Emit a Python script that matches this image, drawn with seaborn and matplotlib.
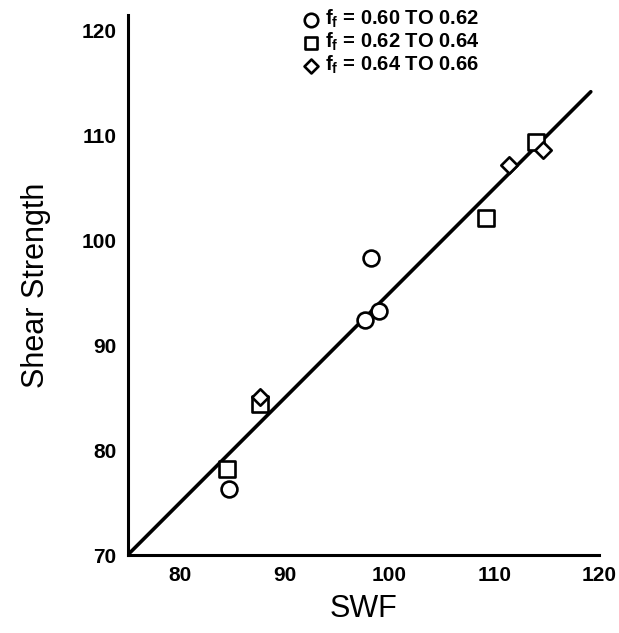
import matplotlib
matplotlib.use("Agg")
import matplotlib.pyplot as plt
import seaborn as sns
import pandas as pd

# ---- data ----
groups = ["0.60 TO 0.62", "0.62 TO 0.64", "0.64 TO 0.66"]
circle_x = [84.7, 97.7, 99.0, 98.2]
circle_y = [76.3, 92.4, 93.3, 98.3]
square_x = [84.5, 87.6, 109.2, 114.0]
square_y = [78.2, 84.4, 102.2, 109.4]
diamond_x = [87.6, 111.4, 114.6]
diamond_y = [85.1, 107.2, 108.6]
fit_x = [75.0, 119.2]
fit_y = [70.0, 114.2]
x_ticks = [80, 90, 100, 110, 120]
y_ticks = [70, 80, 90, 100, 110, 120]

sns.set_theme(style="white")
plt.rcParams["font.family"] = ["Liberation Sans", "DejaVu Sans"]
plt.rcParams["text.color"] = "black"
plt.rcParams["axes.labelcolor"] = "black"
plt.rcParams["xtick.color"] = "black"
plt.rcParams["ytick.color"] = "black"
plt.rcParams["mathtext.fontset"] = "custom"
plt.rcParams["mathtext.bf"] = "Liberation Sans:bold"
plt.rcParams["mathtext.rm"] = "Liberation Sans:bold"
plt.rcParams["mathtext.default"] = "bf"

labels = [f"f$_f$ = {g}" for g in groups]
df = pd.DataFrame({
    "SWF": circle_x + square_x + diamond_x,
    "Shear": circle_y + square_y + diamond_y,
    "group": [labels[0]] * len(circle_x) + [labels[1]] * len(square_x) + [labels[2]] * len(diamond_x),
})

fig = plt.figure(figsize=(6.19, 6.33), dpi=100)
ax = fig.add_axes([0.206, 0.123, 0.762, 0.853])

sns.lineplot(x=fit_x, y=fit_y, ax=ax, color="black", linewidth=2.6, zorder=1)

markers = {labels[0]: "o", labels[1]: "s", labels[2]: "D"}
sizes = {labels[0]: 130, labels[1]: 120, labels[2]: 70}
for lab in labels:
    sub = df[df["group"] == lab]
    sns.scatterplot(data=sub, x="SWF", y="Shear", ax=ax, marker=markers[lab],
                    s=sizes[lab], facecolor="white", edgecolor="black",
                    linewidth=1.9, label=lab, zorder=3)

ax.set_xlim(75, 120)
ax.set_ylim(70, 121.5)
ax.set_xticks(x_ticks)
ax.set_yticks(y_ticks)
ax.tick_params(direction="in", length=16, width=2.0, color="black",
               labelsize=15, pad=8, labelcolor="black")
for t in ax.get_xticklabels() + ax.get_yticklabels():
    t.set_fontweight("bold")
ax.spines["top"].set_visible(False)
ax.spines["right"].set_visible(False)
for s in ["left", "bottom"]:
    ax.spines[s].set_linewidth(2.2)
    ax.spines[s].set_color("black")

ax.set_xlabel("SWF", fontsize=22, labelpad=6)
ax.set_ylabel("Shear Strength", fontsize=22, labelpad=22)

leg = ax.legend(loc="upper left", bbox_to_anchor=(0.337, 1.032), frameon=False,
                handletextpad=0.0, handlelength=1.4, labelspacing=0.04, borderpad=0,
                prop={"weight": "bold", "size": 14.5},
                markerscale=0.85)
for h in leg.legend_handles:
    h.set_linewidth(1.9)

fig.savefig("out.png", dpi=100)
